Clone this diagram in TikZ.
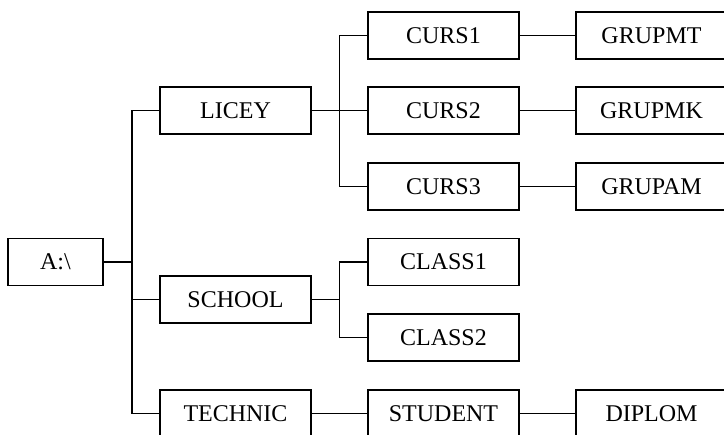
\documentclass[tikz,border=0pt]{standalone}
\usepackage{fontspec}
\setmainfont{Liberation Serif}
\begin{document}
\begin{tikzpicture}[x=1pt,y=-1pt,
  box/.style={draw,line width=1.8pt,rectangle,minimum width=151pt,minimum height=47pt,inner sep=0pt,font=\fontsize{24}{28}\selectfont},
  conn/.style={line width=1.8pt}]
\useasboundingbox (0,0) rectangle (724,435);
\clip (0,0) rectangle (724,435);
\node[box,minimum width=95pt] (A) at (55.5,262) {A:\textbackslash};
\node[box] (LICEY) at (235.5,110.5) {LICEY};
\node[box] (SCHOOL) at (235.5,299.5) {SCHOOL};
\node[box] (TECHNIC) at (235.5,413.5) {TECHNIC};
\node[box] (CURS1) at (443.5,35.5) {CURS1};
\node[box] (CURS2) at (443.5,110.5) {CURS2};
\node[box] (CURS3) at (443.5,186.5) {CURS3};
\node[box] (CLASS1) at (443.5,262) {CLASS1};
\node[box] (CLASS2) at (443.5,337.5) {CLASS2};
\node[box] (STUDENT) at (443.5,413.5) {STUDENT};
\node[box] (GRUPMT) at (651.5,35.5) {GRUPMT};
\node[box] (GRUPMK) at (651.5,110.5) {GRUPMK};
\node[box] (GRUPAM) at (651.5,186.5) {GRUPAM};
\node[box] (DIPLOM) at (651.5,413.5) {DIPLOM};
\coordinate (t) at (132,262);
\coordinate (b1) at (339.5,110.5);
\coordinate (b2) at (339.5,299.5);
% trunk
\draw[conn] (A.east) -- (t);
\draw[conn] (LICEY.west) -| (t) |- (TECHNIC.west);
\draw[conn] (SCHOOL.west) -- (SCHOOL.west -| t);
% licey branch
\draw[conn] (LICEY.east) -- (b1);
\draw[conn] (CURS1.west) -| (b1) |- (CURS3.west);
\draw[conn] (b1) -- (CURS2.west);
% school branch
\draw[conn] (SCHOOL.east) -- (b2);
\draw[conn] (CLASS1.west) -| (b2) |- (CLASS2.west);
% straight links
\draw[conn] (CURS1.east) -- (GRUPMT.west);
\draw[conn] (CURS2.east) -- (GRUPMK.west);
\draw[conn] (CURS3.east) -- (GRUPAM.west);
\draw[conn] (TECHNIC.east) -- (STUDENT.west);
\draw[conn] (STUDENT.east) -- (DIPLOM.west);
\end{tikzpicture}
\end{document}
